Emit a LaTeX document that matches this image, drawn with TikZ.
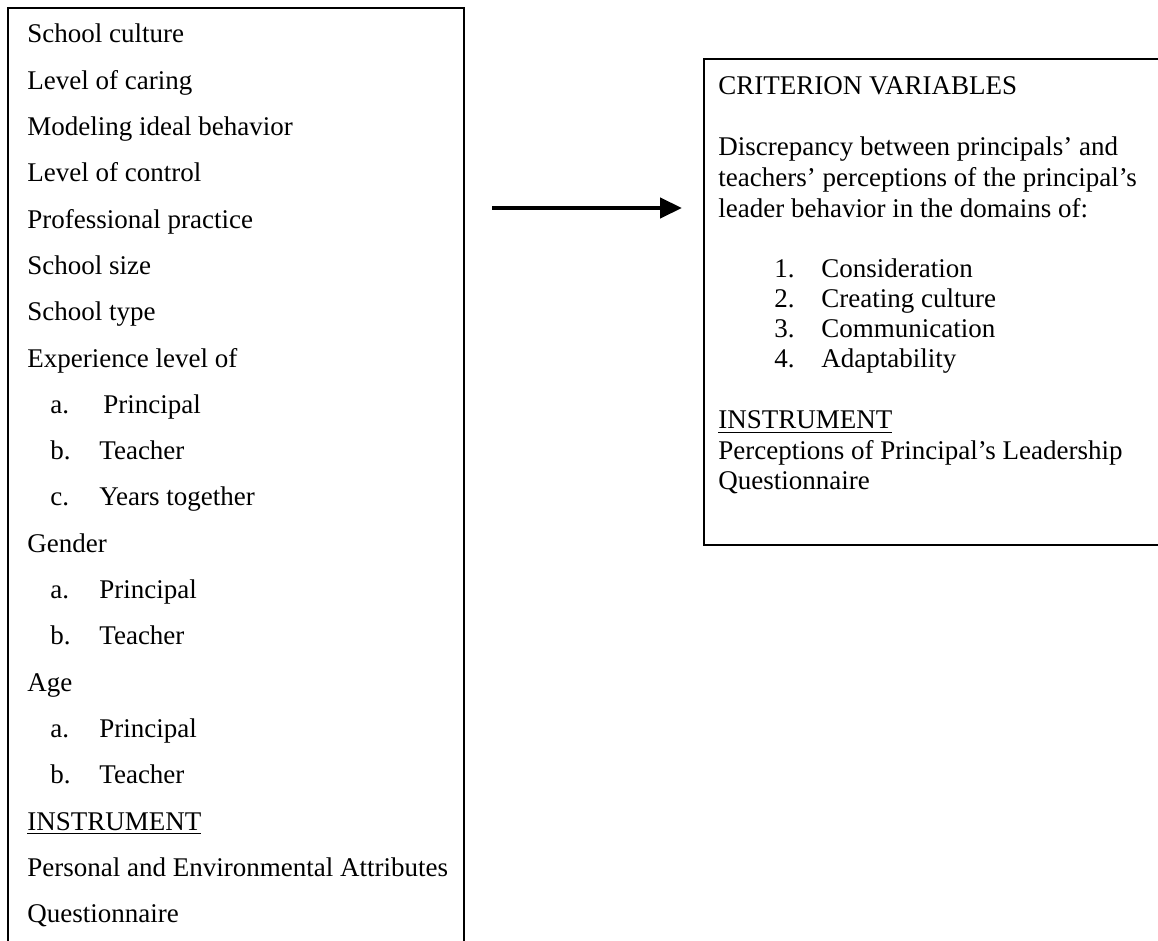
\documentclass[tikz,border=0pt]{standalone}
\usepackage{fontspec}
\setmainfont{Liberation Serif}
\usetikzlibrary{arrows.meta}
\begin{document}
\begin{tikzpicture}[x=0.5pt,y=-0.5pt,
  txt/.style={anchor=base west, inner sep=0pt, font=\fontsize{13.5}{16}\selectfont},
  frame/.style={line width=1.2pt},
  bigarrow/.style={line width=2.2pt, -{Triangle[length=11pt,width=10pt]}}]
\clip (0,0) rectangle (1158,941);
\fill[white] (0,0) rectangle (1158,941);
% left box (open at the bottom)
\draw[frame] (8,960) -- (8,8) -- (464,8) -- (464,960);
% right box (open at the right)
\draw[frame] (1170,59) -- (704,59) -- (704,545) -- (1170,545);
% left texts
\foreach \n/\i/\x/\t in {
  l1/0/27/School culture,
  l2/1/27/Level of caring,
  l3/2/27/Modeling ideal behavior,
  l4/3/27/Level of control,
  l5/4/27/Professional practice,
  l6/5/27/School size,
  l7/6/27/School type,
  l8/7/27/Experience level of,
  l12/11/27/Gender,
  l15/14/27/Age,
  l19/18/27/Personal and Environmental Attributes,
  l20/19/27/Questionnaire}
  \node[txt] (\n) at (\x,43+46.3*\i) {\t};
\foreach \n/\i/\l/\x/\t in {
  l9/8/a./103/Principal,
  l10/9/b./99/Teacher,
  l11/10/c./99/Years together,
  l13/12/a./99/Principal,
  l14/13/b./99/Teacher,
  l16/15/a./99/Principal,
  l17/16/b./99/Teacher}
  {\node[txt] (\n) at (50,43+46.3*\i) {\l};
   \node[txt] (\n t) at (\x,43+46.3*\i) {\t};}
\node[txt] (l18) at (27,43+46.3*17) {\underline{INSTRUMENT}};
% right texts
\node[txt] (r1) at (718,95) {CRITERION VARIABLES};
\node[txt] (r2) at (718,156) {Discrepancy between principals’ and};
\node[txt] (r3) at (718,187) {teachers’ perceptions of the principal’s};
\node[txt] (r4) at (718,218) {leader behavior in the domains of:};
\foreach \n/\y/\l/\t in {
  r5/278/1./Consideration,
  r6/308/2./Creating culture,
  r7/338/3./Communication,
  r8/368/4./Adaptability}
  {\node[txt] (\n) at (774,\y) {\l};
   \node[txt] (\n t) at (821,\y) {\t};}
\node[txt] (r9) at (718,429) {\underline{INSTRUMENT}};
\node[txt] (r10) at (718,459) {Perceptions of Principal’s Leadership};
\node[txt] (r11) at (718,489) {Questionnaire};
% arrow
\coordinate (as) at (492,208);
\coordinate (ae) at (682,208);
\draw[bigarrow] (as) -- (ae);
\end{tikzpicture}
\end{document}
